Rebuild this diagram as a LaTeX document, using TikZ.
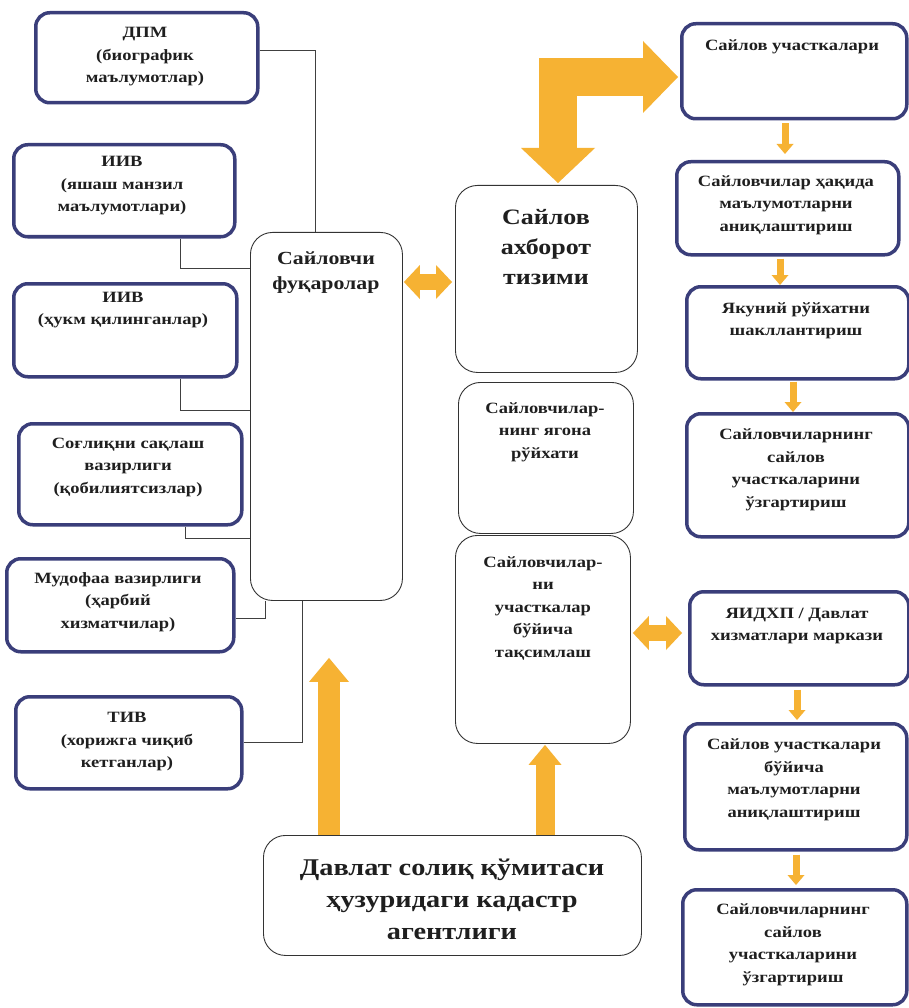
\documentclass[tikz,border=0pt]{standalone}
\usepackage{fontspec}
\setmainfont[FakeStretch=1.18]{Liberation Serif}
\usetikzlibrary{arrows.meta}
\definecolor{ora}{RGB}{246,178,51}
\definecolor{navy}{RGB}{58,62,122}
\newcommand\mkbox[6]{\pgfmathsetmacro\myBW{#5-#3}\pgfmathsetmacro\myBH{#6-#4}%
  \node[#2,anchor=north west,minimum width=\myBW pt,minimum height=\myBH pt] (#1) at (#3,#4) {};}
\begin{document}
\begin{tikzpicture}[x=1pt,y=-1pt,
  bluebox/.style={draw=navy,line width=3.5pt,rounded corners=14pt,fill=white,inner sep=0pt},
  thinbox/.style={draw=black!80,line width=0.9pt,rounded corners=22pt,fill=white,inner sep=0pt},
  txt/.style={align=center,text=black!88,inner sep=0pt,font=\bfseries\fontsize{15.7}{22.5}\selectfont},
  midtxt/.style={txt,font=\bfseries\fontsize{18.5}{25}\selectfont},
  bigtxt/.style={txt,font=\bfseries\fontsize{22}{30}\selectfont},
  hugetxt/.style={txt,font=\bfseries\fontsize{24}{32}\selectfont},
  conn/.style={draw=black!75,line width=0.8pt},
  fat/.style={draw=ora,line join=miter},
  smallarr/.style={fat,line width=7pt,-{Triangle[width=17pt,length=10pt,line width=0pt]}},
  dblarr/.style={fat,line width=16pt,{Triangle[width=34pt,length=16pt,line width=0pt]}-{Triangle[width=34pt,length=16pt,line width=0pt]}}]
\useasboundingbox[fill=white] (0,0) rectangle (908,1008);

% left column
\mkbox{L1}{bluebox}{34}{11}{256}{101}
\mkbox{L2}{bluebox}{12}{143}{233}{235}
\mkbox{L3}{bluebox}{12}{282}{235}{375}
\mkbox{L4}{bluebox}{17}{422}{240}{523}
\mkbox{L5}{bluebox}{5}{557}{232}{650}
\mkbox{L6}{bluebox}{14}{695}{240}{787}
% centre
\mkbox{C1}{thinbox}{250}{232}{402}{600}
\mkbox{C2}{thinbox}{455}{185}{637}{372}
\mkbox{C3}{thinbox}{458}{382}{633}{533}
\mkbox{C4}{thinbox}{455}{535}{630}{743}
\mkbox{C5}{thinbox}{263}{835}{641}{955}
% right column
\mkbox{R1}{bluebox}{680}{22}{905}{117}
\mkbox{R2}{bluebox}{675}{160}{897}{253}
\mkbox{R3}{bluebox}{685}{285}{907}{377}
\mkbox{R4}{bluebox}{685}{412}{907}{535}
\mkbox{R5}{bluebox}{688}{590}{907}{683}
\mkbox{R6}{bluebox}{683}{722}{905}{848}
\mkbox{R7}{bluebox}{681}{888}{905}{1003}

% texts
\node[txt] (tL1) at (145,57) {ДПМ\\(биографик\\маълумотлар)};
\node[txt] (tL2) at (122,186) {ИИВ\\(яшаш манзил\\маълумотлари)};
\node[txt] (tL3) at (123,310) {ИИВ\\(ҳукм қилинганлар)};
\node[txt] (tL4) at (128,467) {Соғлиқни сақлаш\\вазирлиги\\(қобилиятсизлар)};
\node[txt] (tL5) at (118,602) {Мудофаа вазирлиги\\(ҳарбий\\хизматчилар)};
\node[txt] (tL6) at (127,742) {ТИВ\\(хорижга чиқиб\\кетганлар)};
\node[midtxt] (tC1) at (326,273) {Сайловчи\\фуқаролар};
\node[bigtxt] (tC2) at (546,247) {Сайлов\\ахборот\\тизими};
\node[txt] (tC3) at (545,432) {Сайловчилар-\\нинг ягона\\рўйхати};
\node[txt] (tC4) at (543,608) {Сайловчилар-\\ни\\участкалар\\бўйича\\тақсимлаш};
\node[hugetxt] (tC5) at (452,899) {Давлат солиқ қўмитаси\\ҳузуридаги кадастр\\агентлиги};
\node[txt] (tR1) at (792,47) {Сайлов участкалари};
\node[txt] (tR2) at (786,205) {Сайловчилар ҳақида\\маълумотларни\\аниқлаштириш};
\node[txt] (tR3) at (796,321) {Якуний рўйхатни\\шакллантириш};
\node[txt] (tR4) at (796,470) {Сайловчиларнинг\\сайлов\\участкаларини\\ўзгартириш};
\node[txt] (tR5) at (797,626) {ЯИДХП / Давлат\\хизматлари маркази};
\node[txt] (tR6) at (794,780) {Сайлов участкалари\\бўйича\\маълумотларни\\аниқлаштириш};
\node[txt] (tR7) at (793,945) {Сайловчиларнинг\\сайлов\\участкаларини\\ўзгартириш};

% helper levels
\coordinate (y50) at (0,50);   \coordinate (x315) at (315,0);
\coordinate (x180) at (180,0); \coordinate (y268) at (0,268);
\coordinate (y410) at (0,410); \coordinate (x185) at (185,0);
\coordinate (y538) at (0,538); \coordinate (y618) at (0,618);
\coordinate (x265) at (265,0); \coordinate (y742) at (0,742);
\coordinate (x302) at (302,0);
\coordinate (x558) at (558,0); \coordinate (y77) at (0,77);
\coordinate (x329) at (329,0); \coordinate (x545) at (545,0);
\coordinate (y282) at (0,282); \coordinate (y633) at (0,633);
\coordinate (x785) at (785,0); \coordinate (x780) at (780,0);
\coordinate (x793) at (793,0); \coordinate (x797) at (797,0);
\coordinate (x796) at (796,0);

% thin connectors
\draw[conn] (L1.east |- y50) -| (C1.north -| x315);
\draw[conn] (L2.south -| x180) |- (C1.west |- y268);
\draw[conn] (L3.south -| x180) |- (C1.west |- y410);
\draw[conn] (L4.south -| x185) |- (C1.west |- y538);
\draw[conn] (L5.east |- y618) -| (C1.south -| x265);
\draw[conn] (L6.east |- y742) -| (C1.south -| x302);

% fat orange arrows
\draw[fat,line width=38pt,{Triangle[width=74pt,length=35pt,line width=0pt]}-{Triangle[width=72pt,length=35pt,line width=0pt]},shorten <=2pt,shorten >=2pt]
  (C2.north -| x558) |- (R1.west |- y77);
\draw[fat,line width=22pt,-{Triangle[width=40pt,length=24pt,line width=0pt]},shorten >=57pt]
  (C5.north -| x329) -- (C1.south -| x329);
\draw[fat,line width=19pt,-{Triangle[width=33pt,length=20pt,line width=0pt]},shorten >=1pt]
  (C5.north -| x545) -- (C4.south -| x545);
\draw[dblarr,shorten <=1pt,shorten >=3pt] (C1.east |- y282) -- (C2.west |- y282);
\draw[dblarr,shorten <=2pt,shorten >=6pt] (C4.east |- y633) -- (R5.west |- y633);

% small arrows
\draw[smallarr,shorten <=3pt,shorten >=6pt] (R1.south -| x785) -- (R2.north -| x785);
\draw[smallarr,shorten <=2pt] (R2.south -| x780) -- (R3.north -| x780);
\draw[smallarr,shorten <=1pt] (R3.south -| x793) -- (R4.north -| x793);
\draw[smallarr,shorten <=3pt,shorten >=2pt] (R5.south -| x797) -- (R6.north -| x797);
\draw[smallarr,shorten <=3pt,shorten >=3pt] (R6.south -| x796) -- (R7.north -| x796);
\end{tikzpicture}
\end{document}
